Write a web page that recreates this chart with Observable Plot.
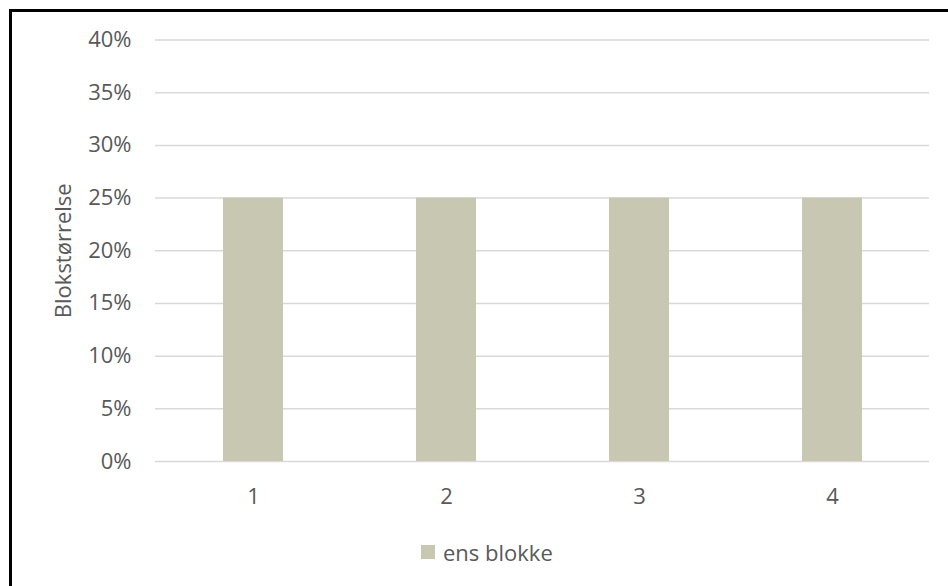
<!DOCTYPE html>
<html>
<head>
<meta charset="utf-8">
<script src="https://cdn.jsdelivr.net/npm/d3@7"></script>
<script src="https://cdn.jsdelivr.net/npm/@observablehq/plot@0.6"></script>
<style>
  html, body { margin: 0; padding: 0; background: #fff; overflow: hidden; }
  #wrap { position: relative; width: 948px; height: 586px; }
  #frame { position: absolute; left: 9px; top: 9px; width: 2000px; height: 2000px;
           border-left: 3px solid #000; border-top: 3px solid #000; pointer-events: none; }
  #legend { display: flex; align-items: center; margin-left: 421px; margin-top: 20px; height: 24px;
            font-family: "Open Sans", sans-serif; font-size: 22px; color: #595959; line-height: 24px; }
  #legend .sw { width: 14px; height: 14px; margin-right: 8px; }
  svg { display: block; }
</style>
</head>
<body>
<div id="wrap"><div id="chart"></div><div id="legend"></div><div id="frame"></div></div>
<script>
const categories = ["1", "2", "3", "4"];
const values = [0.25, 0.25, 0.25, 0.25];
const seriesName = "ens blokke";
const yTicks = [0, 0.05, 0.10, 0.15, 0.20, 0.25, 0.30, 0.35, 0.40];
const yLabel = "Blokstørrelse";
const barColor = "#c8c7b2";

const data = categories.map((c, i) => ({category: c, value: values[i], series: seriesName}));

const plot = Plot.plot({
  width: 948,
  height: 520,
  marginLeft: 155,
  marginRight: 19,
  marginTop: 39.5,
  marginBottom: 59,
  style: {fontFamily: "Open Sans, sans-serif", fontSize: "22px", color: "#595959", background: "white"},
  x: {domain: categories, paddingInner: 0.69, paddingOuter: 0.345, tickSize: 0, tickPadding: 27, label: null},
  y: {domain: [0, 0.4], ticks: yTicks, tickSize: 0, tickPadding: 24, label: null,
      tickFormat: d => Math.round(d * 100) + "%"},
  marks: [
    Plot.ruleY(yTicks, {stroke: "#d9d9d9", strokeWidth: 1.5}),
    Plot.barY(data, {x: "category", y: "value", fill: barColor}),
    Plot.text([yLabel], {frameAnchor: "left", text: d => d, rotate: -90, dx: -92,
                         textAnchor: "middle", fill: "#595959", fontSize: 22})
  ]
});
document.getElementById("chart").appendChild(plot);

const legend = document.getElementById("legend");
const sw = document.createElement("div");
sw.className = "sw";
sw.style.background = barColor;
const lab = document.createElement("span");
lab.textContent = seriesName;
legend.appendChild(sw);
legend.appendChild(lab);
</script>
</body>
</html>
